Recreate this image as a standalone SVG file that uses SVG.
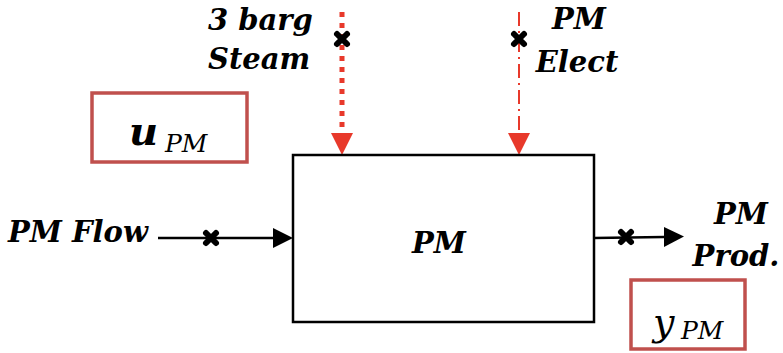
<svg xmlns="http://www.w3.org/2000/svg" width="783" height="353" viewBox="0 0 783 353">
<defs>
<style>
.lbl{font-family:"DejaVu Serif",serif;font-weight:bold;font-style:italic;font-size:29px;fill:#000}
.math{font-family:"DejaVu Serif",serif;font-style:italic;fill:#000}
.var{fill:#fff;stroke:#C0504D;stroke-width:3.5}
.blk{stroke:#000;stroke-width:2.5;fill:none}
.red{stroke:#E8392B;fill:none}
.xm{stroke:#000;stroke-width:6;stroke-linecap:round}
</style>
</defs>
<g id="connectors">
  <line x1="158" y1="238" x2="273" y2="238" class="blk"/>
  <path d="M273,228 L293,238 L273,248 Z" fill="#000"/>
  <line x1="594" y1="238" x2="664" y2="237" class="blk"/>
  <path d="M664,227 L684,236.5 L664,247 Z" fill="#000"/>
  <line x1="342" y1="12" x2="342" y2="134" class="red" stroke-width="5" stroke-dasharray="5,6"/>
  <path d="M331,133 L353,133 L342,155 Z" fill="#E8392B"/>
  <line x1="519" y1="12" x2="519" y2="134" class="red" stroke-width="2" stroke-dasharray="14,5,2,5"/>
  <path d="M508,133 L530,133 L519,155 Z" fill="#E8392B"/>
  <g id="markers">
    <path d="M337,34 L347,44 M347,34 L337,44" class="xm"/>
    <path d="M514,34 L524,44 M524,34 L514,44" class="xm"/>
    <path d="M206,233 L216,243 M216,233 L206,243" class="xm"/>
    <path d="M621,232 L631,242 M631,232 L621,242" class="xm"/>
  </g>
</g>
<g id="pm">
  <rect x="293" y="155" width="301" height="167" class="blk" fill="#fff"/>
  <text x="439" y="253" text-anchor="middle" class="lbl">PM</text>
</g>
<g id="steam">
  <text x="208" y="30" class="lbl">3 barg</text>
  <text x="208" y="69" class="lbl">Steam</text>
</g>
<g id="elect">
  <text x="579" y="29" text-anchor="middle" class="lbl">PM</text>
  <text x="577" y="72" text-anchor="middle" class="lbl">Elect</text>
</g>
<g id="flow">
  <text x="8" y="242" class="lbl">PM Flow</text>
</g>
<g id="prod">
  <text x="741" y="224" text-anchor="middle" class="lbl">PM</text>
  <text x="736" y="266" text-anchor="middle" class="lbl">Prod.</text>
</g>
<g id="u_pm">
  <rect x="92" y="93" width="155" height="69" class="var"/>
  <text x="129" y="145" class="math" font-weight="bold" font-size="40">u</text>
  <text x="165" y="152" class="math" font-size="25">PM</text>
</g>
<g id="y_pm">
  <rect x="631" y="280" width="114" height="69" class="var"/>
  <text x="653" y="335" class="math" font-size="38">y</text>
  <text x="681" y="339" class="math" font-size="25">PM</text>
</g>
</svg>
